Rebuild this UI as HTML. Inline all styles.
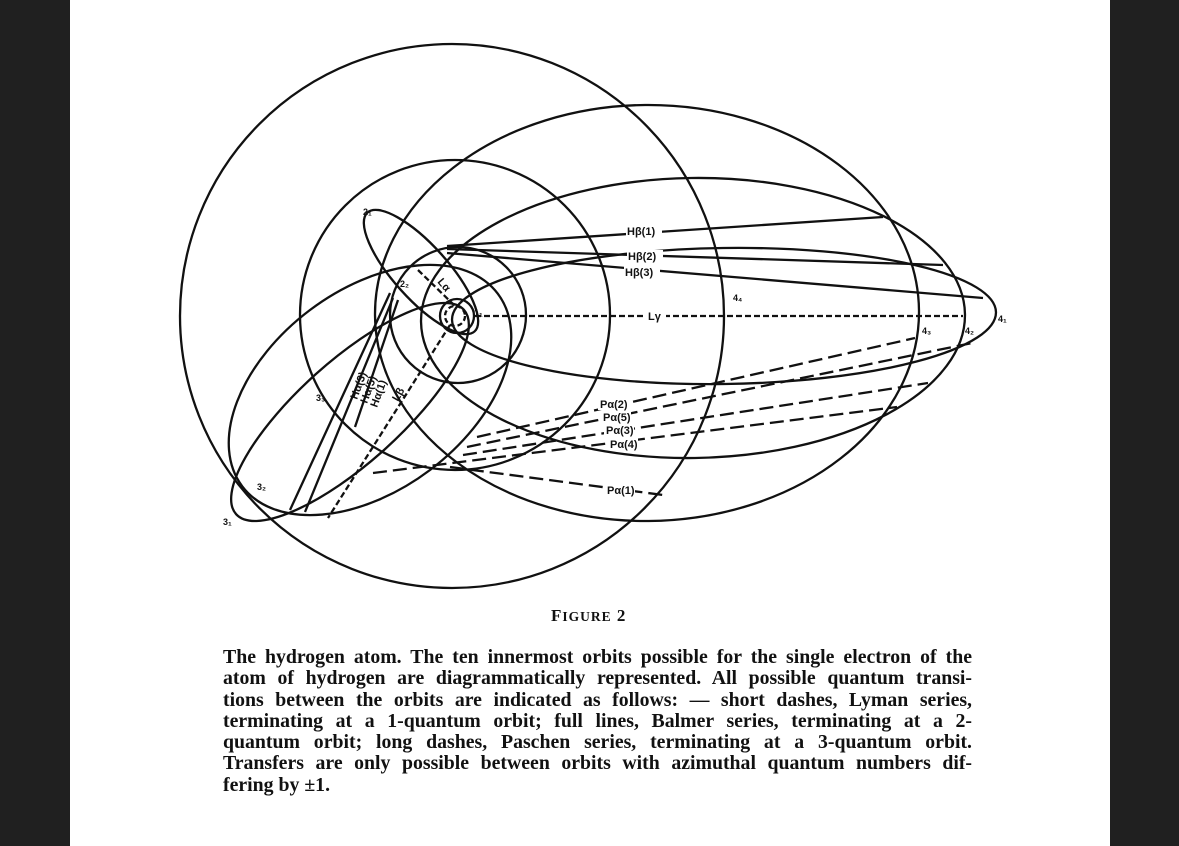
<!DOCTYPE html>
<html><head><meta charset="utf-8"><style>
body{margin:0;width:1179px;height:846px;background:#202020;overflow:hidden;position:relative}
#page{position:absolute;left:70px;top:0;width:1040px;height:846px;background:#fff}
svg{position:absolute;left:0;top:0}
.cap{position:absolute;left:223px;width:749px;font-family:"Liberation Serif",serif;font-size:19.8px;font-weight:bold;color:#111;line-height:21.3px;top:647px}
.cap div{text-align:justify;text-align-last:justify;white-space:nowrap}
.cap div.l{text-align-last:left}
.fig{position:absolute;left:551px;top:606px;font-family:"Liberation Serif",serif;font-size:17px;font-weight:bold;color:#111;letter-spacing:1px}
</style></head><body>
<div id="page"></div>
<svg width="1179" height="846" viewBox="0 0 1179 846">
<g fill="none" stroke="#111" stroke-width="2.3">
<circle cx="452" cy="316" r="272"/>
<circle cx="455" cy="315" r="155"/>
<circle cx="458" cy="315" r="68"/>
<circle cx="457" cy="316" r="17"/>
<circle cx="455" cy="316" r="10" stroke-dasharray="5 3"/>
<ellipse cx="421" cy="272" rx="80" ry="27" transform="rotate(48 421 272)"/>
<ellipse cx="350" cy="412" rx="153" ry="51" transform="rotate(138.1 350 412)"/>
<ellipse cx="370" cy="390" rx="160" ry="100" transform="rotate(143 370 390)"/>
<ellipse cx="647" cy="313" rx="272" ry="208" transform="rotate(-0.5 647 313)"/>
<ellipse cx="693" cy="318" rx="272" ry="140" transform="rotate(-0.8 693 318)"/>
<ellipse cx="724" cy="316" rx="272" ry="68" transform="rotate(-0.8 724 316)"/>
<line x1="447" y1="246" x2="883" y2="217"/>
<line x1="447" y1="249" x2="943" y2="265"/>
<line x1="447" y1="253" x2="983" y2="298"/>
<line x1="390" y1="293" x2="290" y2="510"/>
<line x1="393" y1="298" x2="305" y2="512"/>
<line x1="398" y1="300" x2="355" y2="427"/>
<line x1="475" y1="316" x2="963" y2="316" stroke-dasharray="6 3"/>
<line x1="418" y1="270" x2="455" y2="306" stroke-dasharray="6 3"/>
<line x1="450" y1="325" x2="328" y2="518" stroke-dasharray="6 3"/>
<g stroke-dasharray="14 6">
<line x1="477" y1="437" x2="915" y2="338"/>
<line x1="467" y1="447" x2="972" y2="343"/>
<line x1="463" y1="455" x2="928" y2="383"/>
<line x1="373" y1="473" x2="897" y2="407"/>
<line x1="450" y1="467" x2="663" y2="495"/>
</g>
</g>
<g font-family="Liberation Sans,sans-serif" font-size="11" font-weight="bold" fill="#111">
<rect x="626" y="225" width="36" height="12" fill="#fff"/><text x="627" y="235">Hβ(1)</text>
<rect x="627" y="250" width="36" height="12" fill="#fff"/><text x="628" y="260">Hβ(2)</text>
<rect x="624" y="266" width="36" height="12" fill="#fff"/><text x="625" y="276">Hβ(3)</text>
<rect x="646" y="310" width="20" height="12" fill="#fff"/><text x="648" y="320">Lγ</text>
<rect x="598" y="398" width="30" height="12" fill="#fff"/><text x="600" y="408">Pα(2)</text>
<rect x="601" y="411" width="30" height="12" fill="#fff"/><text x="603" y="421">Pα(5)</text>
<rect x="604" y="424" width="30" height="12" fill="#fff"/><text x="606" y="434">Pα(3)</text>
<rect x="608" y="438" width="30" height="12" fill="#fff"/><text x="610" y="448">Pα(4)</text>
<rect x="605" y="484" width="30" height="12" fill="#fff"/><text x="607" y="494">Pα(1)</text>
<text transform="translate(357,400) rotate(-70)">Hα(3)</text>
<text transform="translate(367,404) rotate(-70)">Hα(5)</text>
<text transform="translate(377,408) rotate(-70)">Hα(1)</text>
<text transform="translate(437,282) rotate(50)">Lα</text>
<text transform="translate(398,402) rotate(-60)">Lβ</text>
<g font-size="9">
<text x="363" y="215">2₁</text><text x="400" y="287">2₂</text><text x="474" y="316">1₁</text>
<text x="316" y="401">3₃</text><text x="257" y="490">3₂</text><text x="223" y="525">3₁</text>
<text x="733" y="301">4₄</text><text x="922" y="334">4₃</text><text x="965" y="334">4₂</text><text x="998" y="322">4₁</text>
</g>
</g>
</svg>
<div class="fig">F<span style="font-size:13.5px">IGURE</span> 2</div>
<div class="cap">
<div>The hydrogen atom. The ten innermost orbits possible for the single electron of the</div>
<div>atom of hydrogen are diagrammatically represented. All possible quantum transi-</div>
<div>tions between the orbits are indicated as follows: — short dashes, Lyman series,</div>
<div>terminating at a 1-quantum orbit; full lines, Balmer series, terminating at a 2-</div>
<div>quantum orbit; long dashes, Paschen series, terminating at a 3-quantum orbit.</div>
<div>Transfers are only possible between orbits with azimuthal quantum numbers dif-</div>
<div class="l">fering by ±1.</div>
</div>
</body></html>
